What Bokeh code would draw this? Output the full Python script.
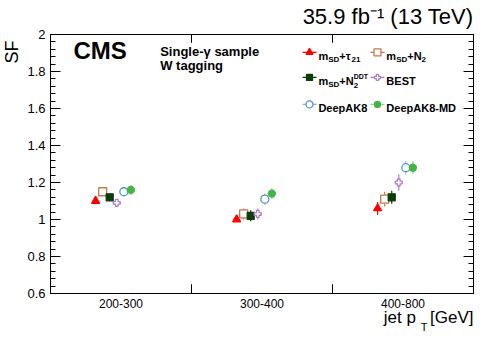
import numpy as np
from bokeh.plotting import figure
from bokeh.models import FixedTicker, LinearAxis, Label, Range1d, Title
from bokeh.embed import file_html
from bokeh.resources import INLINE

# ---------------- data ----------------
bins = ["200-300", "300-400", "400-800"]
bin_edges = [0, 1, 2, 3]

sf_tau21 = [1.10, 1.00, 1.06]
err_tau21 = [0.012, 0.012, 0.035]
sf_n2 = [1.15, 1.03, 1.11]
err_n2 = [0.022, 0.03, 0.04]
sf_n2ddt = [1.12, 1.02, 1.12]
err_n2ddt = [0.02, 0.03, 0.035]
sf_best = [1.09, 1.03, 1.20]
err_best = [0.012, 0.03, 0.045]
sf_deepak8 = [1.15, 1.11, 1.28]
err_deepak8 = [0.012, 0.03, 0.035]
sf_deepak8md = [1.16, 1.14, 1.28]
err_deepak8md = [0.027, 0.03, 0.035]

y_ticks = [0.6, 0.8, 1.0, 1.2, 1.4, 1.6, 1.8, 2.0]
y_tick_labels = ["0.6", "0.8", "1", "1.2", "1.4", "1.6", "1.8", "2"]

# ---------------- styles ----------------
FONT = "Liberation Sans"
NB = "\u00a0"
series = [
    # values, errors, offset, marker, color, errcolor, fill, size
    (sf_tau21, err_tau21, -0.18, "triangle", "#ff0000", "#ff0000", "#ff0000", 8),
    (sf_n2, err_n2, -0.13, "square", "#c8784a", "#c8784a", "white", 8),
    (sf_n2ddt, err_n2ddt, -0.08, "square", "#0b3d0b", "#0b3d0b", "#0b3d0b", 7),
    (sf_best, err_best, -0.03, "plus", "#b07cc8", "#b07cc8", "white", 7),
    (sf_deepak8, err_deepak8, 0.02, "circle", "#4f93d6", "#8ab8e6", "white", 8),
    (sf_deepak8md, err_deepak8md, 0.07, "circle", "#44b544", "#8fd38f", "#44b544", 7),
]

p = figure(width=498, height=338, x_range=Range1d(0, 3), y_range=Range1d(0.6, 2.0),
           output_backend="svg", toolbar_location=None,
           min_border_left=50, min_border_right=25, min_border_top=34, min_border_bottom=45)
p.grid.visible = False
p.outline_line_color = "black"
p.outline_line_width = 1
p.background_fill_color = "white"
p.border_fill_color = "white"

# x axis: category labels at bin centres
centres = [(bin_edges[i] + bin_edges[i + 1]) / 2 for i in range(len(bins))]
p.xaxis.ticker = FixedTicker(ticks=centres, minor_ticks=[])
p.xaxis.major_label_overrides = {c: b for c, b in zip(centres, bins)}
p.xaxis.major_tick_in = 0
p.xaxis.major_tick_out = 0
p.xaxis.minor_tick_in = 0
p.xaxis.minor_tick_out = 0
p.xaxis.axis_line_color = "black"
p.xaxis.major_label_text_font = FONT
p.xaxis.major_label_text_font_size = "12px"
p.xaxis.major_label_text_color = "black"
p.xaxis.major_label_standoff = 5

minor = [float(v) for v in np.round(np.arange(0.6, 2.0001, 0.04), 2)]
p.yaxis.ticker = FixedTicker(ticks=y_ticks, minor_ticks=minor)
p.yaxis.major_label_overrides = {t: l for t, l in zip(y_ticks, y_tick_labels)}
p.yaxis.major_tick_in = 10
p.yaxis.major_tick_out = 0
p.yaxis.minor_tick_in = 5
p.yaxis.minor_tick_out = 0
p.yaxis.axis_line_color = "black"
p.yaxis.major_tick_line_color = "black"
p.yaxis.minor_tick_line_color = "black"
p.yaxis.major_label_text_font = FONT
p.yaxis.major_label_text_font_size = "13px"
p.yaxis.major_label_text_color = "black"
p.yaxis.major_label_standoff = 5

ra = LinearAxis(ticker=FixedTicker(ticks=y_ticks, minor_ticks=minor),
                major_tick_in=10, major_tick_out=0, minor_tick_in=5, minor_tick_out=0,
                major_label_text_font_size="0px", major_label_standoff=0,
                axis_line_color="black", major_tick_line_color="black",
                minor_tick_line_color="black")
ra.major_label_overrides = {t: "" for t in y_ticks}
p.add_layout(ra, "right")

# titles / axis titles placed in side panels (not clipped)
p.title.visible = False
top_title = Title(text="35.9 fb\u207b\u00b9 (13 TeV)", align="right", text_font=FONT,
                  text_font_size="22px", text_font_style="normal", text_color="black",
                  standoff=7, vertical_align="top")
p.add_layout(top_title, "above")

sf_title = Title(text="SF", align="right", offset=6, text_font=FONT, text_font_size="18px",
                 text_font_style="normal", text_color="black", standoff=2,
                 vertical_align="top")
p.add_layout(sf_title, "left")

x_title = Title(text="jet p" + NB * 3 + "[GeV]", align="right", text_font=FONT,
                text_font_size="17px", text_font_style="normal", text_color="black",
                standoff=-10, vertical_align="bottom")
p.add_layout(x_title, "below")
x_sub = Title(text="T", align="right", offset=46, text_font=FONT,
              text_font_size="11px", text_font_style="normal", text_color="black",
              standoff=-6, vertical_align="bottom")
p.add_layout(x_sub, "below")

# bin-edge tick marks (bottom and top)
inner_edges = bin_edges[1:-1]
p.segment(x0=inner_edges, y0=[0.6] * len(inner_edges), x1=inner_edges,
          y1=[0.6 + 0.05] * len(inner_edges), line_color="black", line_width=1)
p.segment(x0=inner_edges, y0=[2.0] * len(inner_edges), x1=inner_edges,
          y1=[2.0 - 0.045] * len(inner_edges), line_color="black", line_width=1)

# data points with error bars
for vals, errs, off, mk, col, ecol, fill, size in series:
    xs = [c + off for c in centres]
    lo = [v - e for v, e in zip(vals, errs)]
    hi = [v + e for v, e in zip(vals, errs)]
    p.segment(x0=xs, y0=lo, x1=xs, y1=hi, line_color=ecol, line_width=1.2)
    p.scatter(x=xs, y=vals, marker=mk, size=size, line_color=col, fill_color=fill,
              line_width=1.3)

# ---------------- rich text helper (inside the frame) ----------------
BOLD = {' ': 278, '+': 584, '-': 333, 'A': 722, 'B': 722, 'D': 722, 'E': 667, 'K': 722,
        'M': 833, 'N': 722, 'P': 667, 'S': 667, 'T': 611, 'W': 944, 'a': 556, 'e': 556,
        'g': 611, 'i': 278, 'l': 278, 'm': 889, 'n': 611, 'p': 611, 's': 556, 't': 333,
        '\u03c4': 520, '\u03b3': 556}


def tw(s, size):
    return sum(BOLD.get(ch, 556) for ch in s) * size / 1000.0


def rich(pieces, x, y, color="black"):
    """pieces: list of (text, size_px, dy_px, advance)"""
    xo = 0.0
    for t, s, d, adv in pieces:
        p.add_layout(Label(x=x, y=y, x_offset=xo, y_offset=d, text=t,
                           text_font=FONT, text_font_size=f"{s}px",
                           text_font_style="bold", text_color=color,
                           text_align="left", text_baseline="alphabetic"))
        if adv:
            xo += tw(t, s)


# CMS & sample labels
p.add_layout(Label(x=0.163, y=1.842, text="CMS", text_font=FONT, text_font_size="24px",
                   text_font_style="bold", text_color="black"))
p.add_layout(Label(x=0.778, y=1.866, text="Single-\u03b3 sample", text_font=FONT,
                   text_font_size="13px", text_font_style="bold", text_color="black"))
p.add_layout(Label(x=0.778, y=1.793, text="W tagging", text_font=FONT,
                   text_font_size="13px", text_font_style="bold", text_color="black"))

# ---------------- legend ----------------
leg_rows = [1.903, 1.768, 1.622]
leg_cols = [1.837, 2.319]
leg_half = 0.05
leg_text_dx = 0.063
legend_texts = [
    [("m", 11, -4, True), ("SD", 8, -7, True), ("+\u03c4", 11, -4, True), ("21", 8, -7, True)],
    [("m", 11, -4, True), ("SD", 8, -7, True), ("+N", 11, -4, True), ("2", 8, -7, True)],
    [("m", 11, -4, True), ("SD", 8, -7, True), ("+N", 11, -4, True), ("DDT", 7, 1, False),
     ("2", 8, -8, True)],
    [("BEST", 11, -4, True)],
    [("DeepAK8", 11, -4, True)],
    [("DeepAK8-MD", 11, -4, True)],
]
for i, (vals, errs, off, mk, col, ecol, fill, size) in enumerate(series):
    r, c = divmod(i, 2)
    lx, ly = leg_cols[c], leg_rows[r]
    p.segment(x0=[lx - leg_half], y0=[ly], x1=[lx + leg_half], y1=[ly],
              line_color=ecol, line_width=1.2)
    p.scatter(x=[lx], y=[ly], marker=mk, size=size - 1, line_color=col, fill_color=fill,
              line_width=1.3)
    rich(legend_texts[i], lx + leg_text_dx, ly)

open("out.html", "w").write(file_html(p, INLINE))
